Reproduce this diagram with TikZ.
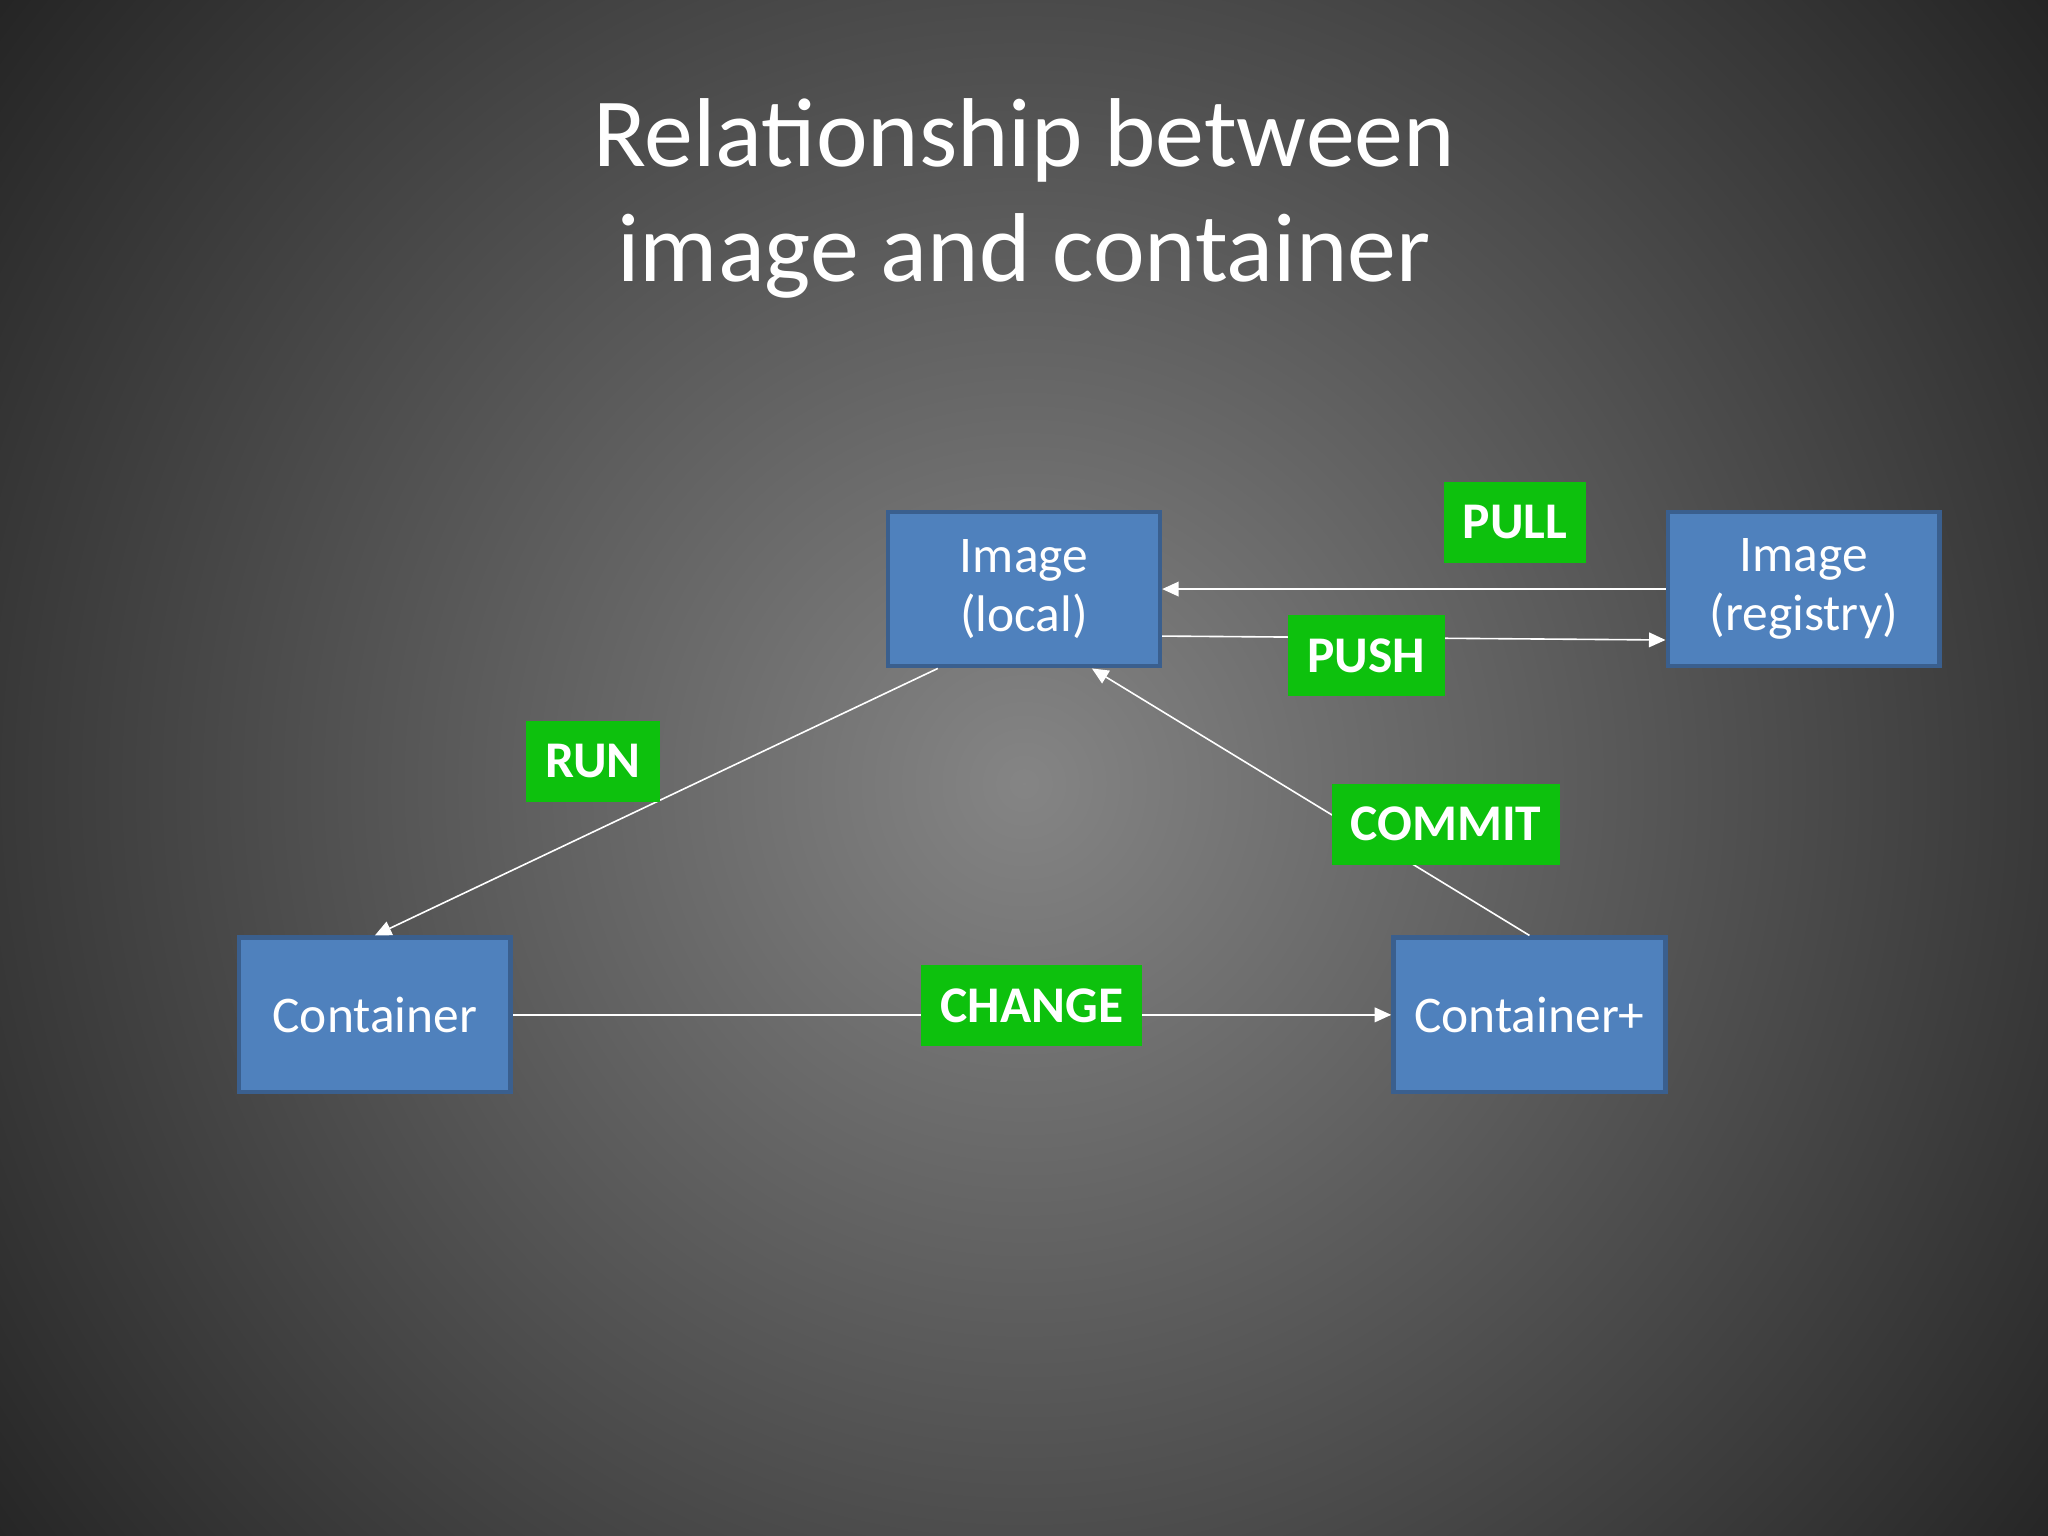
\documentclass[tikz,border=0pt]{standalone}
\usepackage{fontspec}
\setmainfont{Carlito}
\usetikzlibrary{calc,arrows.meta}
\definecolor{boxblue}{HTML}{4F81BD}
\definecolor{boxedge}{HTML}{3A5F8E}
\definecolor{lblgreen}{HTML}{0DC10D}
\tikzset{
  box/.style={draw=boxedge,line width=1pt,fill=boxblue,minimum width=2.08cm,minimum height=1.18cm,text=white,font=\fontsize{11.2}{13}\selectfont,align=center,inner sep=0pt},
  lbl/.style={fill=lblgreen,text=white,font=\fontsize{11.2}{13}\selectfont\bfseries,inner sep=0pt,minimum height=0.62cm},
  conn/.style={draw=white,line width=0.35pt,-{Triangle[width=3.2pt,length=3.6pt]}}
}
\begin{document}
\begin{tikzpicture}[x=0.01cm,y=-0.01cm]
\useasboundingbox (0,0) rectangle (1568,1176);
\fill[black!88] (0,0) rectangle (1568,1176);
\shade[inner color=black!48, outer color=black!88] (784-1050,600-1050) rectangle (784+1050,600+1050);
\node[text=white,font=\fontsize{21.3}{25}\selectfont,align=center] (title) at (784,152) {Relationship between\\image and container};
\node[box] (loc) at (784,451) {Image\\(local)};
\node[box] (reg) at (1381,451) {Image\\(registry)};
\node[box] (con) at (287,777) {Container};
\node[box] (conp) at (1171,777) {Container+};
\draw[conn] (reg.west) -- (loc.east);
\draw[conn] ($(loc.east)+(0,36)$) -- ($(reg.west)+(0,39)$);
\draw[conn] ($(loc.south)+(-66,0)$) -- (con.north);
\draw[conn] (conp.north) -- ($(loc.south)+(52,0)$);
\draw[conn] (con.east) -- (conp.west);
\node[lbl,minimum width=1.09cm] (pull) at (1160,400) {PULL};
\node[lbl,minimum width=1.20cm] (push) at (1046,502) {PUSH};
\node[lbl,minimum width=1.03cm] (run) at (454,583) {RUN};
\node[lbl,minimum width=1.75cm] (commit) at (1107,631) {COMMIT};
\node[lbl,minimum width=1.69cm] (change) at (790,770) {CHANGE};
\end{tikzpicture}
\end{document}
